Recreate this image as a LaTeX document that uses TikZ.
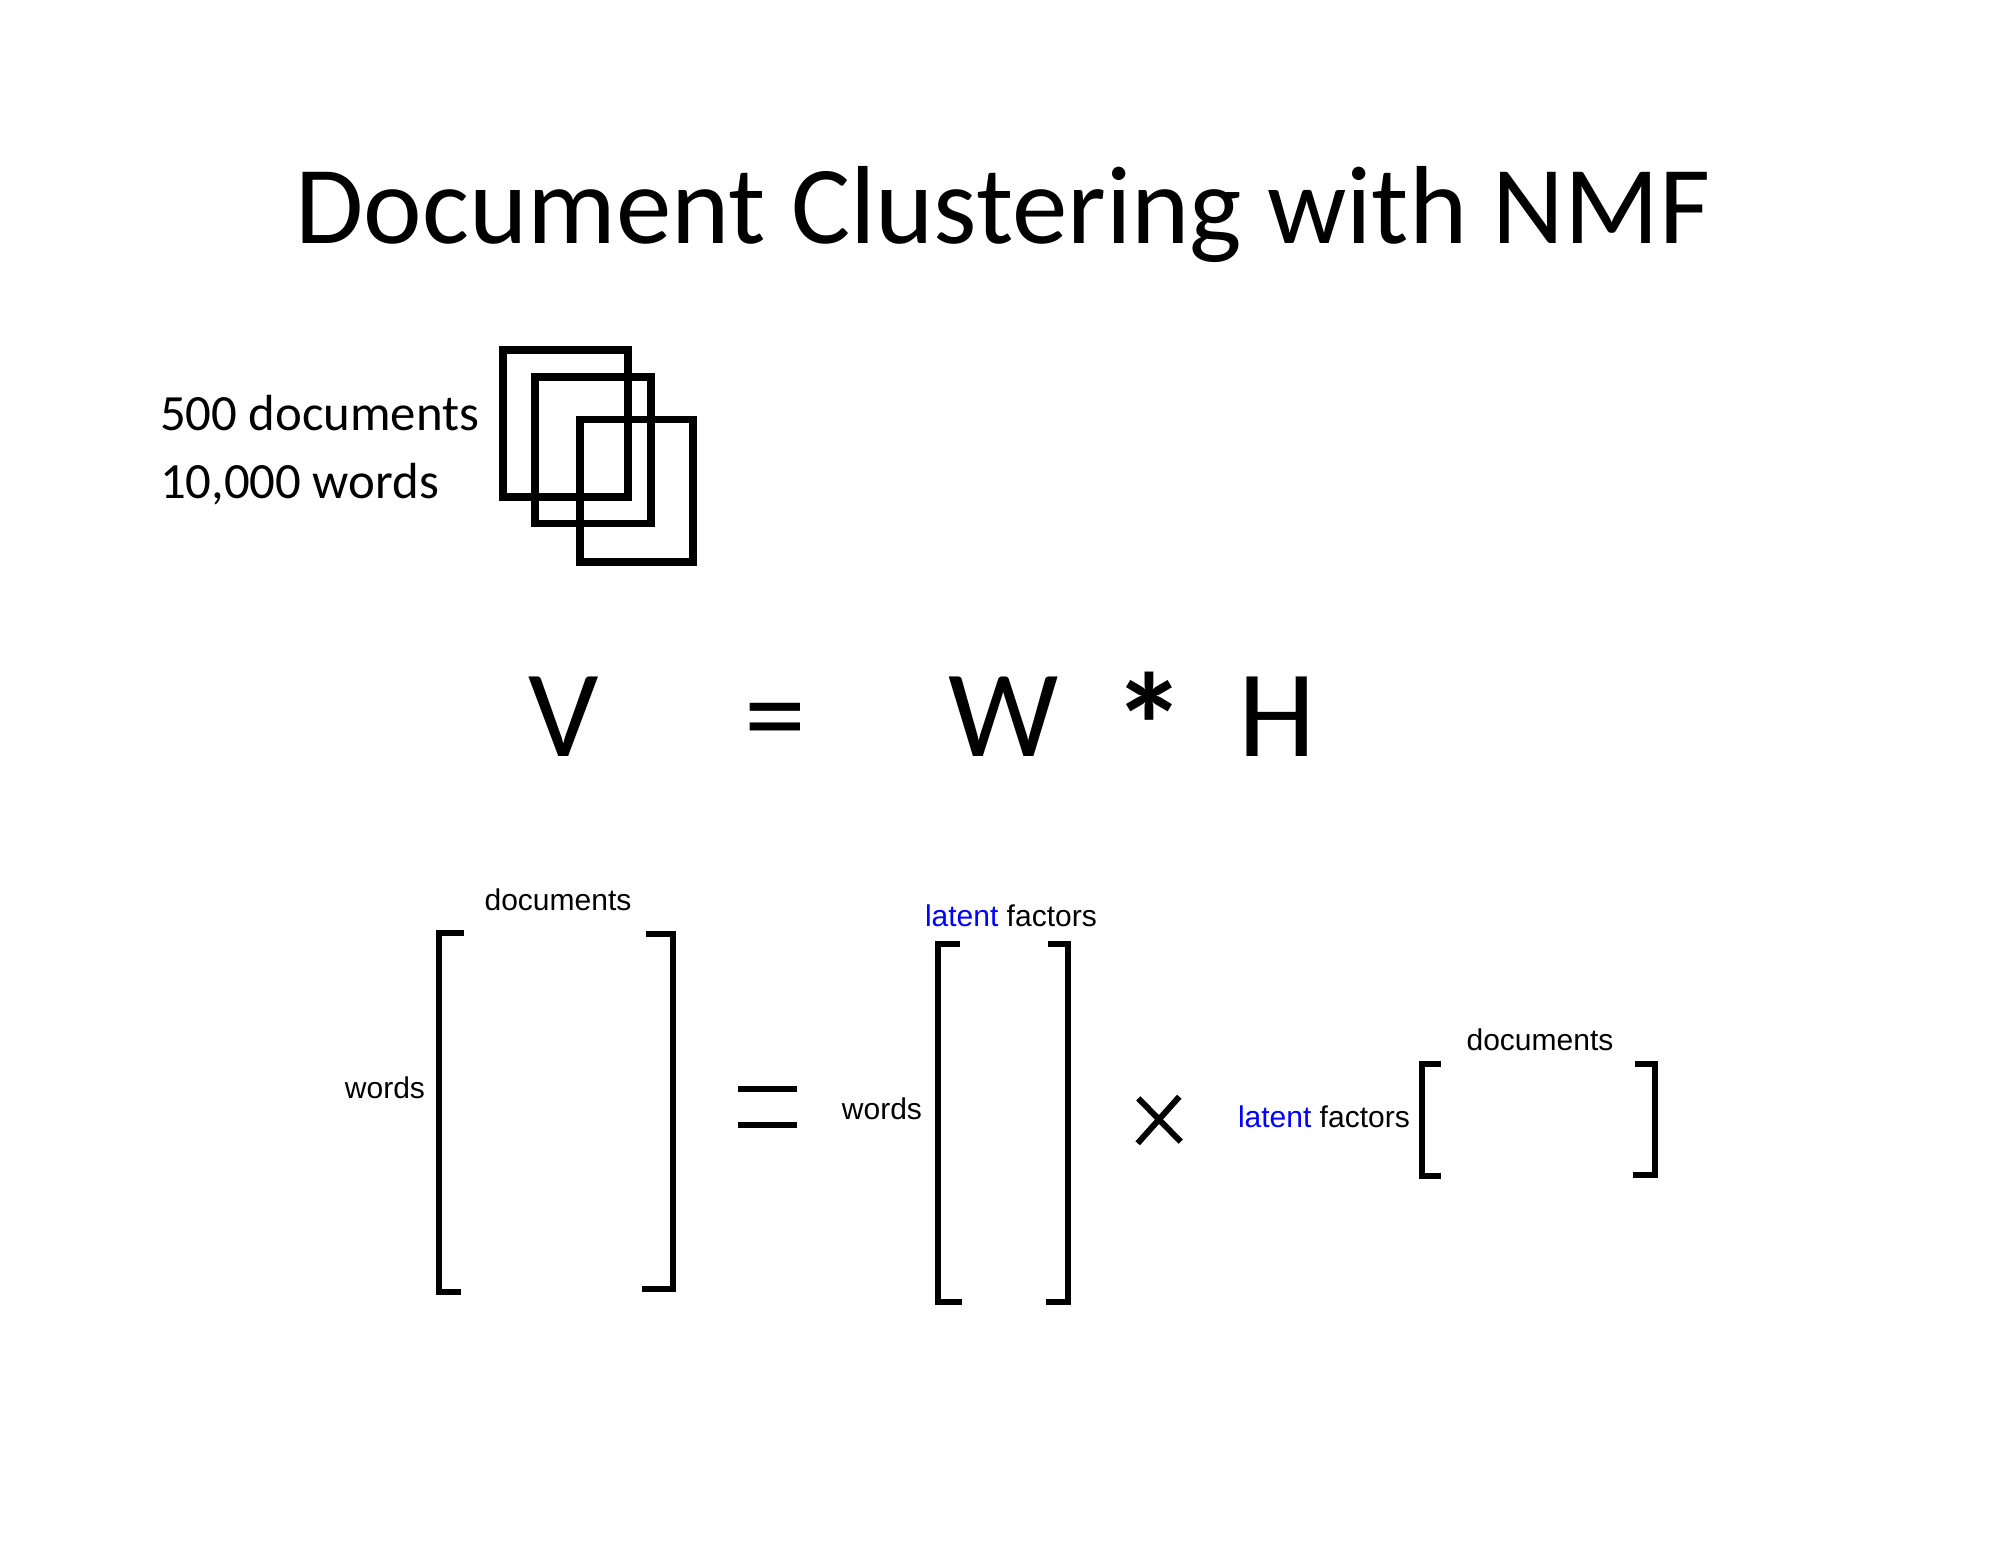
\documentclass[tikz,border=0pt]{standalone}
\usepackage{fontspec}
\setmainfont{Carlito}
\newfontfamily\helvfont{Liberation Sans}
\begin{document}
\begin{tikzpicture}[x=0.5pt,y=-0.5pt,
  txt/.style={inner sep=0pt,outer sep=0pt},
  title/.style={txt,font=\fontsize{55.5pt}{60pt}\selectfont},
  info/.style={txt,font=\fontsize{25.4pt}{30pt}\selectfont},
  eqn/.style={txt,font=\fontsize{62pt}{70pt}\selectfont},
  lbl/.style={txt,font=\helvfont\fontsize{15pt}{18pt}\selectfont},
  sq/.style={draw=black,line width=3.75pt},
  brk/.style={draw=black,line width=3pt,line join=miter,line cap=butt},
  opbar/.style={draw=black,line width=3pt,line cap=butt}]
\useasboundingbox (0,0) rectangle (1999,1545);

% title
\node[title,anchor=base] (title) at (1003,244) {Document Clustering with NMF};

% info
\node[info,anchor=base west] (ndocs) at (160,431) {500 documents};
\node[info,anchor=base west] (nwords) at (160,499) {10,000 words};

% overlapping squares
\draw[sq] (503,350) rectangle (628,497);
\draw[sq] (535,377) rectangle (651,523.5);
\draw[sq] (580,419.5) rectangle (693,562);

% V = W * H
\node[eqn,anchor=base] (V) at (564,757) {V};
\node[eqn,anchor=base] (eq) at (775,757) {=};
\node[eqn,anchor=base] (W) at (1004,757) {W};
\node[eqn,anchor=center] (ast) at (1150,725) {\scalebox{1.2}{\textbf{*}}};
\node[eqn,anchor=base] (H) at (1277,757) {H};

% V matrix
\node[lbl,anchor=base] (vdocs) at (558,911) {documents};
\node[lbl,anchor=base east] (vwords) at (425,1098) {words};
\draw[brk] (464,933) -- (438.7,933) -- (438.7,1291.5) -- (461,1291.5);
\draw[brk] (646,934) -- (673.3,934) -- (673.3,1289) -- (642,1289);

% equals
\coordinate (e1a) at (738,1089); \coordinate (e1b) at (797,1089);
\coordinate (e2a) at (738,1124.5); \coordinate (e2b) at (797,1124.5);
\draw[opbar] (e1a) -- (e1b);
\draw[opbar] (e2a) -- (e2b);

% W matrix
\node[lbl,anchor=base west] (wlat) at (925,927) {\textcolor{blue}{latent} factors};
\node[lbl,anchor=base east] (wwords) at (922,1119) {words};
\draw[brk] (960,944) -- (938.3,944) -- (938.3,1302) -- (961.7,1302);
\draw[brk] (1048,944) -- (1068,944) -- (1068,1302) -- (1046,1302);

% times
\coordinate (x1) at (1138.3,1098.3); \coordinate (x2) at (1180.7,1141.7);
\coordinate (x3) at (1179.3,1096.7); \coordinate (x4) at (1137.7,1143.3);
\draw[opbar] (x1) -- (x2);
\draw[opbar] (x3) -- (x4);

% H matrix
\node[lbl,anchor=base west] (hlat) at (1238,1127) {\textcolor{blue}{latent} factors};
\node[lbl,anchor=base] (hdocs) at (1540,1050) {documents};
\draw[brk] (1441,1063.5) -- (1421.5,1063.5) -- (1421.5,1175.5) -- (1441,1175.5);
\draw[brk] (1635,1063.5) -- (1655,1063.5) -- (1655,1174.5) -- (1633,1174.5);
\end{tikzpicture}
\end{document}
